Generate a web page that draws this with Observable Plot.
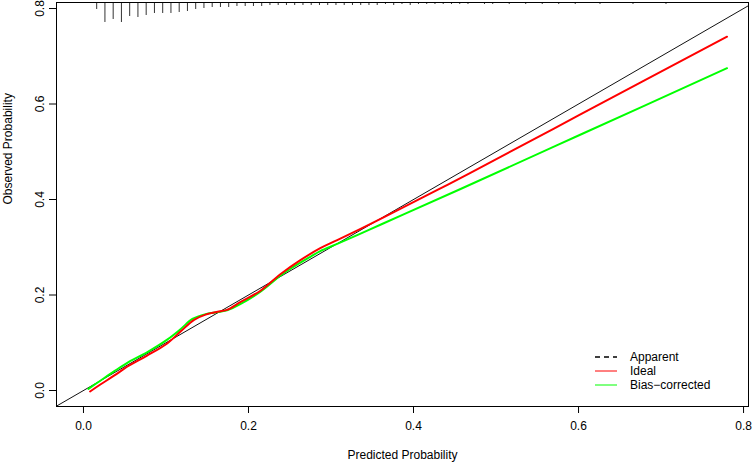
<!DOCTYPE html>
<html>
<head>
<meta charset="utf-8">
<script src="https://cdn.jsdelivr.net/npm/d3@7"></script>
<script src="https://cdn.jsdelivr.net/npm/@observablehq/plot@0.6"></script>
<style>
  html, body { margin: 0; padding: 0; background: #fff; }
  #chart { width: 753px; height: 465px; }
</style>
</head>
<body>
<div id="chart"></div>
<script>
// ---- data ----
const xTicks = [0, 0.2, 0.4, 0.6, 0.8];
const yTicks = [0, 0.2, 0.4, 0.6, 0.8];

const apparentX = [0.008, 0.02, 0.037, 0.055, 0.077, 0.101, 0.118, 0.134, 0.148, 0.166, 0.174, 0.19, 0.2145, 0.239, 0.262, 0.287, 0.3075, 0.348, 0.388, 0.429, 0.469, 0.6, 0.78];
const apparentY = [-0.002, 0.012, 0.031, 0.052, 0.073, 0.098, 0.124, 0.148, 0.159, 0.166, 0.169, 0.185, 0.209, 0.244, 0.272, 0.298, 0.315, 0.349, 0.384, 0.420, 0.456, 0.576, 0.741];

const biasX = [0.006, 0.02, 0.037, 0.055, 0.077, 0.101, 0.118, 0.132, 0.148, 0.166, 0.174, 0.19, 0.2145, 0.239, 0.251, 0.275, 0.287, 0.3075, 0.348, 0.388, 0.457, 0.6, 0.78];
const biasY = [0.0035, 0.02, 0.040, 0.060, 0.080, 0.106, 0.129, 0.150, 0.160, 0.165, 0.168, 0.181, 0.207, 0.241, 0.255, 0.280, 0.292, 0.307, 0.338, 0.369, 0.422, 0.534, 0.675];

const idealLine = [-1, 1];

const rugX = [0.016, 0.026, 0.036, 0.046, 0.056, 0.066, 0.076, 0.086, 0.096, 0.106, 0.116, 0.126, 0.136, 0.146, 0.156, 0.166, 0.176, 0.186, 0.196, 0.206, 0.216, 0.226, 0.236, 0.246, 0.256, 0.266, 0.276, 0.286, 0.296, 0.306, 0.316, 0.326, 0.336, 0.346, 0.356, 0.366, 0.376, 0.386, 0.396, 0.406, 0.416, 0.426, 0.436, 0.446, 0.456, 0.466, 0.486, 0.496, 0.516, 0.536, 0.556, 0.576, 0.596, 0.626, 0.666, 0.706];
const rugFreq = [7, 20, 17, 20, 14, 15, 13, 11, 11, 11, 10, 9, 7, 6, 5, 5, 5, 4, 4, 4, 4, 3, 3, 3, 3, 3, 3, 3, 3, 3, 3, 3, 3, 3, 3, 2, 3, 2, 3, 2, 2, 2, 2, 2, 2, 2, 2, 2, 2, 2, 2, 2, 2, 2, 2, 2];

const legendLabels = ["Apparent", "Ideal", "Bias\u2212corrected"];
const legendColors = ["black", "#FF0000", "#00FF00"];
const legendDash = ["5,4", null, null];

// ---- build ----
const xDomain = [-0.0327, 0.806];
const yDomain = [-0.0335, 0.8126];
const yTop = yDomain[1];
const rugUnit = 1 / 477.5;

const apparent = apparentX.map((x, i) => ({x, y: apparentY[i]}));
const bias = biasX.map((x, i) => ({x, y: biasY[i]}));
const rug = rugX.map((x, i) => ({x, y1: yTop, y2: yTop - rugFreq[i] * rugUnit}));

function legendMark(index, scales, values, dims) {
  const g = d3.create("svg:g");
  const right = dims.width - dims.marginRight;
  const bottom = dims.height - dims.marginBottom;
  const rows = [-49, -35, -21];
  legendLabels.forEach((lab, i) => {
    const y = bottom + rows[i];
    const ln = g.append("line")
      .attr("x1", right - 153).attr("x2", right - 131)
      .attr("y1", y).attr("y2", y)
      .attr("stroke", legendColors[i])
      .attr("stroke-width", i === 0 ? 1.5 : 1);
    if (legendDash[i]) ln.attr("stroke-dasharray", legendDash[i]);
    g.append("text")
      .attr("x", right - 118).attr("y", y)
      .attr("dy", "0.35em")
      .attr("text-anchor", "start")
      .attr("fill", "black")
      .attr("font-size", 12)
      .text(lab);
  });
  return g.node();
}

const chart = Plot.plot({
  width: 753,
  height: 465,
  marginTop: 2,
  marginRight: 5,
  marginBottom: 59,
  marginLeft: 56,
  style: {fontFamily: "'Liberation Sans', Arial, sans-serif", fontSize: "12px", background: "white", color: "black"},
  x: {domain: xDomain, label: null},
  y: {domain: yDomain, label: null},
  marks: [
    Plot.line(idealLine, {x: d => d, y: d => d, stroke: "#111", strokeWidth: 1, clip: true}),
    Plot.ruleX(rug, {x: "x", y1: "y1", y2: "y2", stroke: "#333", strokeWidth: 1}),
    Plot.line(bias, {x: "x", y: "y", stroke: "#00FF00", strokeWidth: 2, curve: "catmull-rom"}),
    Plot.line(apparent, {x: "x", y: "y", stroke: "#FF0000", strokeWidth: 2, curve: "catmull-rom"}),
    Plot.frame({stroke: "black", strokeWidth: 1}),
    Plot.axisX({ticks: xTicks, tickSize: 7, tickPadding: 8, tickFormat: d => d.toFixed(1), label: null, fontSize: 12}),
    Plot.axisY({ticks: yTicks, tickSize: 7, tickFormat: () => "", label: null}),
    Plot.text(yTicks, {x: xDomain[0], y: d => d, text: d => d.toFixed(1), rotate: -90, dx: -16, textAnchor: "middle", lineAnchor: "middle", fontSize: 12}),
    Plot.text(["Predicted Probability"], {frameAnchor: "bottom", dy: 52, fontSize: 12}),
    Plot.text(["Observed Probability"], {frameAnchor: "left", dx: -48, rotate: -90, fontSize: 12}),
    legendMark
  ]
});
document.getElementById("chart").appendChild(chart);
</script>
</body>
</html>
